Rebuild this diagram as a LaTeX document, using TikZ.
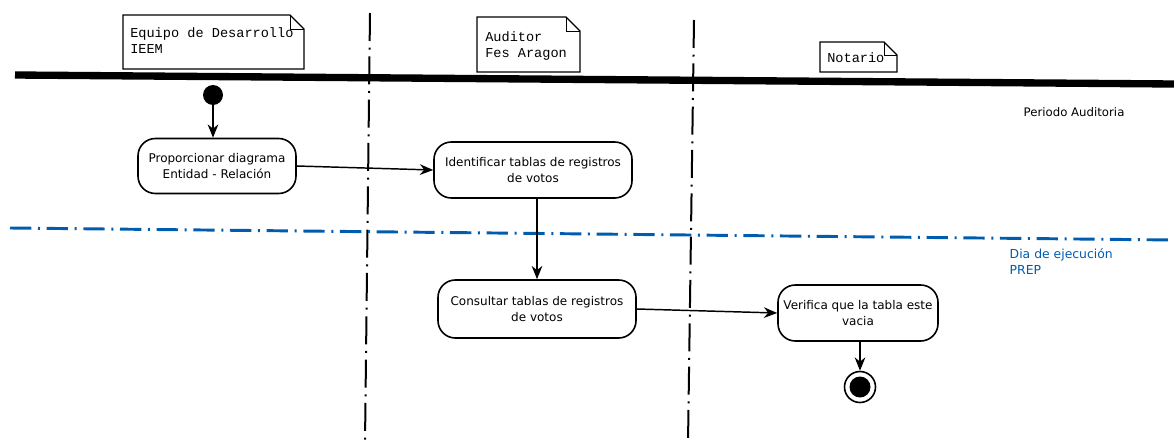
\documentclass[tikz,border=0pt]{standalone}
\usepackage{fontspec}
\setmainfont{DejaVu Sans}
\newfontfamily\monofnt{Liberation Mono}
\usetikzlibrary{arrows.meta}
\definecolor{lineblue}{RGB}{0,92,175}
\begin{document}
\begin{tikzpicture}[x=0.75pt,y=-0.75pt,
  activity/.style={draw, line width=1.2pt, rounded corners=13pt, align=center,
    font=\fontsize{9}{11.5}\selectfont, inner sep=0pt},
  notetext/.style={align=left, font=\monofnt\fontsize{10.2}{12.5}\selectfont, inner sep=0pt, anchor=north west},
  flow/.style={line width=1.1pt, -{Stealth[length=10pt,width=8pt]}},
  lane/.style={line width=1.5pt, dash pattern=on 21pt off 5pt on 1.5pt off 5pt},
  phase/.style={draw=lineblue, line width=2.2pt, dash pattern=on 16pt off 5pt on 1.5pt off 5pt},
  notebox/.style={line width=1pt}]
\useasboundingbox (0,0) rectangle (1174,443);

% swimlane separators
\coordinate (l1a) at (370,13); \coordinate (l1b) at (365,443);
\coordinate (l2a) at (694,20); \coordinate (l2b) at (688,443);
\draw[lane] (l1a) -- (l1b);
\draw[lane] (l2a) -- (l2b);

% phase separator
\coordinate (pa) at (10,228); \coordinate (pb) at (1174,240);
\draw[phase] (pa) -- (pb);

% thick top bar
\coordinate (ta) at (15,75); \coordinate (tb) at (1174,84);
\draw[line width=5.5pt] (ta) -- (tb);

% notes
\draw[notebox] (123,69) -- (123,15) -- (290,15) -- (304,29) -- (304,69) -- cycle;
\draw[line width=0.5pt] (290,15) -- (290,29) -- (304,29);
\node[notetext] (n1) at (130,27) {Equipo de Desarrollo\\IEEM};

\draw[notebox] (477,72) -- (477,17) -- (566,17) -- (580,31) -- (580,72) -- cycle;
\draw[line width=0.5pt] (566,17) -- (566,31) -- (580,31);
\node[notetext] (n2) at (485,31) {Auditor\\Fes Aragon};

\draw[notebox] (820,72) -- (820,42) -- (884,42) -- (897,55) -- (897,72) -- cycle;
\draw[line width=0.5pt] (884,42) -- (884,55) -- (897,55);
\node[notetext] (n3) at (827,52) {Notario};

% labels
\node[anchor=west, font=\fontsize{8.8}{10}\selectfont] (p1) at (1019,112) {Periodo Auditoria};
\node[anchor=west, align=left, text=lineblue, font=\fontsize{9.3}{12}\selectfont] (p2) at (1005,262) {Dia de ejecución\\PREP};

% start
\node[circle, fill=black, minimum size=20*0.75pt, inner sep=0pt] (start) at (213,95) {};

% activities
\node[activity, minimum width=158*0.75pt, minimum height=55*0.75pt] (a1) at (217,166) {Proporcionar diagrama\\Entidad - Relación};
\node[activity, minimum width=198*0.75pt, minimum height=56*0.75pt] (a2) at (533,170) {Identificar tablas de registros\\de votos};
\node[activity, minimum width=198*0.75pt, minimum height=58*0.75pt] (a3) at (537,309) {Consultar tablas de registros\\de votos};
\node[activity, minimum width=160*0.75pt, minimum height=56*0.75pt] (a4) at (858,313) {Verifica que la tabla este\\vacia};

% end
\node[circle, draw, line width=1.2pt, minimum size=31*0.75pt, inner sep=0pt] (end) at (860,387) {};
\node[circle, fill=black, minimum size=21*0.75pt, inner sep=0pt] (endin) at (end) {};

% flows
\draw[flow] (start) -- (start |- a1.north);
\draw[flow] (a1.east) -- (a2.west);
\draw[flow] (a3.north |- a2.south) -- (a3.north);
\draw[flow] (a3.east) -- (a4.west);
\draw[flow] (a4.south -| end.north) -- (end.north);
\end{tikzpicture}
\end{document}
